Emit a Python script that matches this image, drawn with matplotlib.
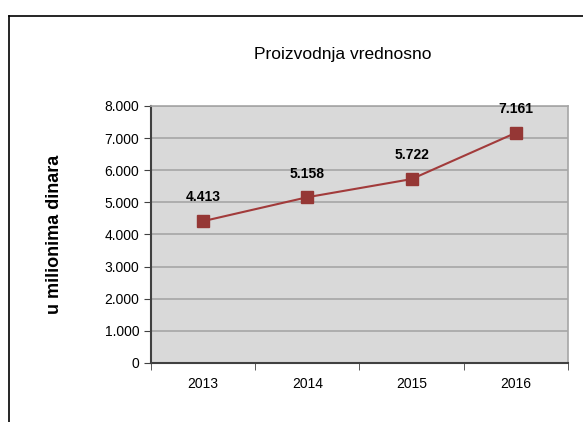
import matplotlib.pyplot as plt
import numpy as np
from matplotlib.lines import Line2D

godine = ['2013', '2014', '2015', '2016']
vrednosti = [4413, 5158, 5722, 7161]
labele = ['4.413', '5.158', '5.722', '7.161']
y_ticks = [0, 1000, 2000, 3000, 4000, 5000, 6000, 7000, 8000]
y_tick_labels = ['0', '1.000', '2.000', '3.000', '4.000', '5.000', '6.000', '7.000', '8.000']

plt.rcParams['font.family'] = ['Liberation Sans Narrow', 'Liberation Sans', 'DejaVu Sans']

fig = plt.figure(figsize=(5.83, 4.22), dpi=100, facecolor='white')
ax = fig.add_axes([0.259, 0.140, 0.715, 0.609])
ax.set_facecolor('#d9d9d9')

x = np.arange(len(godine))
ax.plot(x, vrednosti, color='#a23b3b', linewidth=1.5, marker='s', markersize=8,
        markerfacecolor='#953735', markeredgecolor='#953735', zorder=3)
for xi, v, t in zip(x, vrednosti, labele):
    ax.annotate(t, (xi, v), xytext=(0, 12), textcoords='offset points',
                ha='center', va='bottom', fontsize=10, fontweight='bold')

ax.set_xlim(-0.5, len(godine) - 0.5)
ax.set_ylim(0, 8000)
ax.set_yticks(y_ticks)
ax.set_yticklabels(y_tick_labels, fontsize=10)
ax.yaxis.grid(True, color='#a6a6a6', linewidth=1.2)
ax.set_axisbelow(True)

ax.set_xticks(x)
ax.set_xticklabels(godine, fontsize=10)
ax.tick_params(axis='x', which='major', length=0, pad=10)
ax.set_xticks(np.arange(-0.5, len(godine)), minor=True)
ax.tick_params(axis='x', which='minor', length=5, color='#404040', direction='out')
ax.tick_params(axis='y', length=5, color='#404040', direction='out')

for s in ['left', 'bottom']:
    ax.spines[s].set_color('#404040')
    ax.spines[s].set_linewidth(1.5)
for s in ['top', 'right']:
    ax.spines[s].set_color('#a6a6a6')
    ax.spines[s].set_linewidth(1.2)

ax.set_ylabel('u milionima dinara', fontsize=13, fontweight='bold', labelpad=30)
fig.text(0.588, 0.87, 'Proizvodnja vrednosno', ha='center', va='center', fontsize=12.5)

# okvir oko grafikona
fig.add_artist(Line2D([0.0154, 0.0154], [0.962, 0.0], color='black', linewidth=1.2))
fig.add_artist(Line2D([0.0154, 1.0], [0.962, 0.962], color='black', linewidth=1.2))

fig.savefig('out.png', dpi=100)
